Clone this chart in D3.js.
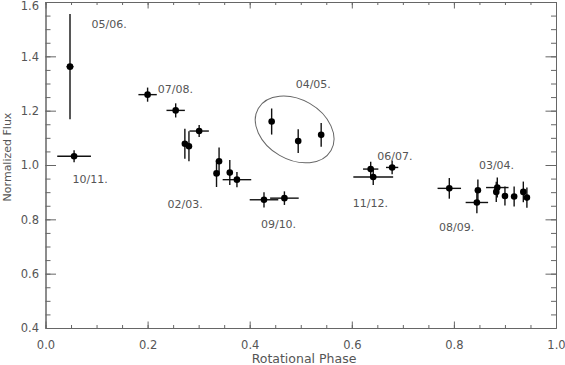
<!DOCTYPE html>
<html>
<head>
<meta charset="utf-8">
<script src="https://cdn.jsdelivr.net/npm/d3@7"></script>
<style>
	body { margin: 0; background: #fff; }
	text { font-family: "DejaVu Sans", sans-serif; fill: #555; }
	.domain, .tick line { stroke: #666; }
</style>
</head>
<body>
<svg id="chart" width="565" height="365"></svg>
<script>
// rotational phase, normalized flux and their errors
var phase     = [0.048, 0.056, 0.200, 0.255, 0.273, 0.281, 0.301, 0.340, 0.335, 0.361, 0.375,
                 0.428, 0.468, 0.443, 0.495, 0.540, 0.637, 0.642, 0.679, 0.791, 0.845,
                 0.847, 0.885, 0.883, 0.900, 0.918, 0.936, 0.943];
var flux      = [1.362, 1.032, 1.259, 1.201, 1.078, 1.069, 1.125, 1.014, 0.969, 0.972, 0.946,
                 0.872, 0.878, 1.160, 1.088, 1.111, 0.985, 0.956, 0.991, 0.914, 0.862,
                 0.907, 0.917, 0.901, 0.886, 0.884, 0.901, 0.880];
var phaseErr  = [0.007, 0.033, 0.018, 0.018, 0, 0, 0.019, 0, 0, 0, 0.028,
                 0.028, 0.028, 0, 0, 0, 0.015, 0.039, 0.012, 0.023, 0.022,
                 0, 0.022, 0, 0, 0, 0, 0];
var fluxErr   = [0.194, 0.022, 0.026, 0.026, 0.055, 0.055, 0.022, 0.05, 0.05, 0.046, 0.028,
                 0.028, 0.025, 0.048, 0.044, 0.044, 0.027, 0.03, 0.025, 0.038, 0.04,
                 0.04, 0.037, 0.037, 0.035, 0.037, 0.038, 0.037];

// season labels
var labelText  = ["05/06.", "10/11.", "07/08.", "02/03.", "04/05.", "09/10.", "06/07.", "11/12.", "03/04.", "08/09."];
var labelPhase = [0.090, 0.053, 0.220, 0.239, 0.490, 0.422, 0.650, 0.602, 0.849, 0.771];
var labelFlux  = [1.519, 0.948, 1.280, 0.855, 1.298, 0.781, 1.033, 0.861, 1.000, 0.771];

// circled group (04/05.)
var ellipseCenter = [0.488, 1.131];

var xTicks = [0, 0.2, 0.4, 0.6, 0.8, 1.0];
var yTicks = [0.4, 0.6, 0.8, 1.0, 1.2, 1.4, 1.6];

var svg = d3.select("#chart");
var plotLeft = 45.5, plotRight = 556, plotTop = 2, plotBottom = 328;

var x = d3.scaleLinear().domain([0, 1]).range([plotLeft, plotRight]);
var y = d3.scaleLinear().domain([0.4, 1.6]).range([plotBottom, plotTop]);

var xMinor = d3.range(0, 1.0001, 0.05);
var yMinor = d3.range(0.4, 1.6001, 0.05);

function styleAxis(g)
{
	g.selectAll("text").style("font-size", "11.5px");
	g.select(".domain").attr("stroke", "#666");
}

// bottom / top
svg.append("g").attr("transform", "translate(0," + plotBottom + ")")
	.call(d3.axisBottom(x).tickValues(xMinor).tickSize(-3).tickFormat("").tickSizeOuter(0));
svg.append("g").attr("transform", "translate(0," + plotBottom + ")")
	.call(d3.axisBottom(x).tickValues(xTicks).tickSize(-6.5).tickPadding(13).tickFormat(d3.format(".1f")).tickSizeOuter(0))
	.call(styleAxis);
svg.append("g").attr("transform", "translate(0," + plotTop + ")")
	.call(d3.axisTop(x).tickValues(xMinor).tickSize(-3).tickFormat("").tickSizeOuter(0));
svg.append("g").attr("transform", "translate(0," + plotTop + ")")
	.call(d3.axisTop(x).tickValues(xTicks).tickSize(-6.5).tickFormat("").tickSizeOuter(0));

// left / right
svg.append("g").attr("transform", "translate(" + plotLeft + ",0)")
	.call(d3.axisLeft(y).tickValues(yMinor).tickSize(-5).tickFormat("").tickSizeOuter(0));
var yAxis = svg.append("g").attr("transform", "translate(" + plotLeft + ",0)")
	.call(d3.axisLeft(y).tickValues(yTicks).tickSize(-10.5).tickPadding(6.5).tickFormat(d3.format(".1f")).tickSizeOuter(0))
	.call(styleAxis);
// top label sits a little lower, as in the original
yAxis.selectAll(".tick text").filter(function(d){ return d === 1.6; }).attr("y", 4);
svg.append("g").attr("transform", "translate(" + plotRight + ",0)")
	.call(d3.axisRight(y).tickValues(yMinor).tickSize(-5).tickFormat("").tickSizeOuter(0));
svg.append("g").attr("transform", "translate(" + plotRight + ",0)")
	.call(d3.axisRight(y).tickValues(yTicks).tickSize(-10.5).tickFormat("").tickSizeOuter(0));

svg.selectAll(".tick text").attr("fill", "#555");

svg.append("text")
	.attr("x", 304).attr("y", 363)
	.attr("text-anchor", "middle").style("font-size", "12.5px")
	.text("Rotational Phase");
svg.append("text")
	.attr("transform", "translate(11,157) rotate(-90)")
	.attr("text-anchor", "middle").style("font-size", "11px")
	.text("Normalized Flux");

var data = phase.map(function(p, i){
	return { x: p, y: flux[i], dx: phaseErr[i], dy: fluxErr[i] };
});

var T = svg.append("g");

T.selectAll(".xerr")
	.data(data.filter(function(d){ return d.dx > 0; }))
	.enter().append("line").classed("xerr", true)
		.attr("x1", function(d){ return x(d.x - d.dx); })
		.attr("x2", function(d){ return x(d.x + d.dx); })
		.attr("y1", function(d){ return y(d.y); })
		.attr("y2", function(d){ return y(d.y); })
		.attr("stroke", "#111").attr("stroke-width", 1.4);

T.selectAll(".yerr")
	.data(data)
	.enter().append("line").classed("yerr", true)
		.attr("x1", function(d){ return x(d.x); })
		.attr("x2", function(d){ return x(d.x); })
		.attr("y1", function(d){ return y(d.y - d.dy); })
		.attr("y2", function(d){ return y(d.y + d.dy); })
		.attr("stroke", "#111").attr("stroke-width", 1.4);

T.selectAll(".pt")
	.data(data)
	.enter().append("circle").classed("pt", true)
		.attr("cx", function(d){ return x(d.x); })
		.attr("cy", function(d){ return y(d.y); })
		.attr("r", 3.3)
		.attr("fill", "#000");

svg.append("ellipse")
	.attr("transform", "translate(" + x(ellipseCenter[0]) + "," + y(ellipseCenter[1]) + ") rotate(30)")
	.attr("rx", 42).attr("ry", 30)
	.attr("fill", "none").attr("stroke", "#666").attr("stroke-width", 1);

svg.selectAll(".lbl")
	.data(labelText)
	.enter().append("text").classed("lbl", true)
		.attr("x", function(d, i){ return x(labelPhase[i]); })
		.attr("y", function(d, i){ return y(labelFlux[i]); })
		.attr("dy", "0.35em")
		.style("font-size", "11px")
		.text(function(d){ return d; });
</script>
</body>
</html>
